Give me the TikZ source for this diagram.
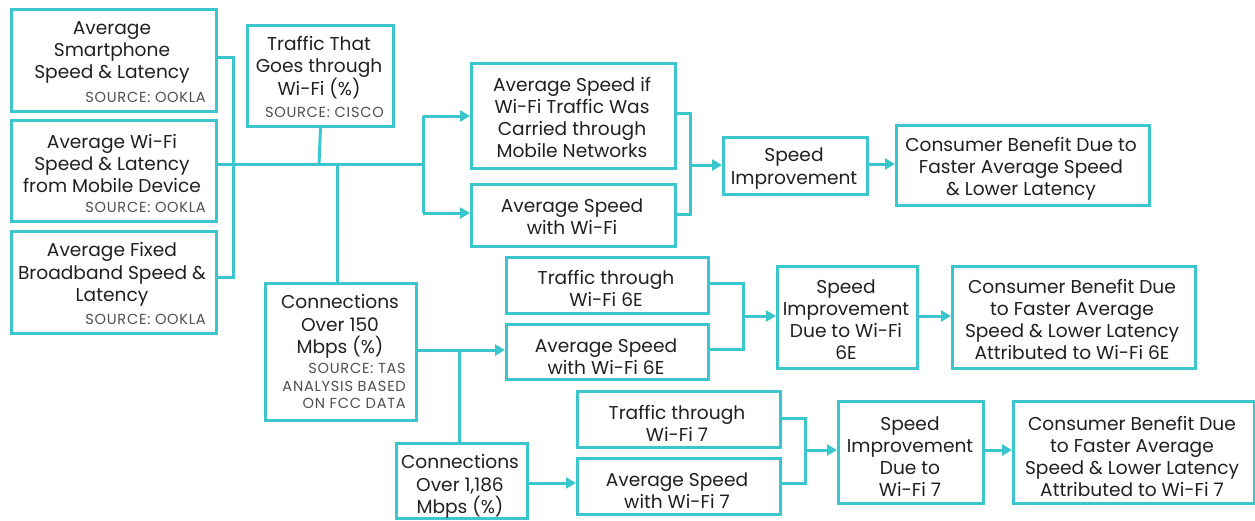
\documentclass[tikz,border=0pt]{standalone}
\usepackage{fontspec}
\setmainfont{Poppins}
\usetikzlibrary{arrows.meta}
\definecolor{tq}{RGB}{58,198,204}
\definecolor{ink}{RGB}{35,31,32}
\definecolor{srcgray}{RGB}{80,80,80}
\tikzset{
  x=1pt, y=-1pt,
  box/.style={draw=tq, line width=3pt, anchor=north west, inner sep=0pt, fill=white},
  txt/.style={align=center, text=ink, inner sep=0pt, yshift=-2.5pt, font=\fontsize{18.6}{22.2}\selectfont},
  src/.style={align=right, text=srcgray, inner sep=0pt, font=\fontsize{14.6}{17.5}\selectfont\addfontfeature{LetterSpace=5}},
  link/.style={draw=tq, line width=3pt},
  flow/.style={link, -{Triangle[length=10pt,width=11pt]}}
}
% box with corners (x1,y1)-(x2,y2)
\newcommand{\mybox}[5]{\node[box, minimum width=#4-#2, minimum height=#5-#3] (#1) at (#2,#3) {};}
\begin{document}
\begin{tikzpicture}
\useasboundingbox[fill=white] (0,0) rectangle (1255,520);

% ---- input boxes
\mybox{a1}{10}{8}{215}{110}
\mybox{a2}{10}{119}{215}{220}
\mybox{a3}{10}{230}{215}{332}
\mybox{tr}{246}{24}{392}{125}
\mybox{c150}{264}{282}{415}{419}
\mybox{c1186}{395}{442}{526}{517}

% ---- top chain
\mybox{asi}{470}{62}{674}{167}
\mybox{asw}{470}{183}{674}{245}
\mybox{si}{722}{136}{866}{193}
\mybox{cb}{895}{124}{1148}{204}

% ---- Wi-Fi 6E chain
\mybox{t6}{505}{256}{707}{312}
\mybox{s6}{505}{323}{707}{378}
\mybox{si6}{776}{265}{916}{367}
\mybox{cb6}{951}{265}{1194}{367}

% ---- Wi-Fi 7 chain
\mybox{t7}{576}{390}{779}{446}
\mybox{s7}{576}{457}{779}{513}
\mybox{si7}{837}{400}{982}{502}
\mybox{cb7}{1012}{400}{1253}{502}

% ---- texts
\node[txt] (a1t) at (112,50) {Average\\Smartphone\\Speed \& Latency};
\node[src, anchor=east] (a1s) at (206,97) {SOURCE: OOKLA};
\node[txt] (a2t) at (112,161) {Average Wi-Fi\\Speed \& Latency\\from Mobile Device};
\node[src, anchor=east] (a2s) at (206,207) {SOURCE: OOKLA};
\node[txt] (a3t) at (112,272) {Average Fixed\\Broadband Speed \&\\Latency};
\node[src, anchor=east] (a3s) at (206,319) {SOURCE: OOKLA};
\node[txt] (trt) at (319,65) {Traffic That\\Goes through\\Wi-Fi (\%)};
\node[src, anchor=east] (trs) at (384,112) {SOURCE: CISCO};
\node[txt] (c150t) at (340,324) {Connections\\Over 150\\Mbps (\%)};
\node[src, anchor=north east] (c150s) at (406,363) {SOURCE: TAS\\ANALYSIS BASED\\ON FCC DATA};
\node[txt] (c1186t) at (460,484) {Connections\\Over 1,186\\Mbps (\%)};

\node[txt] (asit) at (572,115) {Average Speed if\\Wi-Fi Traffic Was\\Carried through\\Mobile Networks};
\node[txt] (aswt) at (572,214) {Average Speed\\with Wi-Fi};
\node[txt] (sit) at (794,166) {Speed\\Improvement};
\node[txt] (cbt) at (1021,166) {Consumer Benefit Due to\\Faster Average Speed\\\& Lower Latency};

\node[txt] (t6t) at (606,286) {Traffic through\\Wi-Fi 6E};
\node[txt] (s6t) at (606,354) {Average Speed\\with Wi-Fi 6E};
\node[txt] (si6t) at (846,317) {Speed\\Improvement\\Due to Wi-Fi\\6E};
\node[txt] (cb6t) at (1072,317) {Consumer Benefit Due\\to Faster Average\\Speed \& Lower Latency\\Attributed to Wi-Fi 6E};

\node[txt] (t7t) at (677,421) {Traffic through\\Wi-Fi 7};
\node[txt] (s7t) at (677,488) {Average Speed\\with Wi-Fi 7};
\node[txt] (si7t) at (910,454) {Speed\\Improvement\\Due to\\Wi-Fi 7};
\node[txt] (cb7t) at (1132,454) {Consumer Benefit Due\\to Faster Average\\Speed \& Lower Latency\\Attributed to Wi-Fi 7};

% ---- junction points
\coordinate (jl) at (233,57);
\coordinate (jm) at (423,164);
\coordinate (jt) at (319,164);
\coordinate (jc) at (337,164);
\coordinate (jr) at (690,165);
\coordinate (j6) at (459,350);
\coordinate (k6) at (743,316);
\coordinate (k7) at (805,450);

% ---- connectors
\draw[link] (a1.east |- jl) -- (jl) -- (jl |- 0,277) -- (a3.east |- 0,277);
\draw[link] (a2.east |- jm) -- (jm);
\draw[link] (tr.south) -- (jt);
\draw[link] (jc) -- (c150.north -| jc);
\draw[link] (jm |- 0,116) -- (jm |- 0,213);
\draw[flow] (jm |- 0,116) -- (asi.west |- 0,116);
\draw[flow] (jm |- 0,213) -- (asw.west |- 0,213);
\draw[link] (asi.east |- 0,113) -- (jr |- 0,113) -- (jr |- 0,214) -- (asw.east |- 0,214);
\draw[flow] (jr) -- (si.west |- jr);
\draw[flow] (si.east |- 0,164) -- (cb.west |- 0,164);

\draw[flow] (c150.east |- j6) -- (s6.west |- j6);
\draw[link] (j6) -- (c1186.north -| j6);
\draw[flow] (c1186.east |- 0,483) -- (s7.west |- 0,483);

\draw[link] (t6.east |- 0,283) -- (k6 |- 0,283) -- (k6 |- 0,349) -- (s6.east |- 0,349);
\draw[flow] (k6) -- (si6.west |- k6);
\draw[flow] (si6.east |- k6) -- (cb6.west |- k6);

\draw[link] (t7.east |- 0,418) -- (k7 |- 0,418) -- (k7 |- 0,483) -- (s7.east |- 0,483);
\draw[flow] (k7) -- (si7.west |- k7);
\draw[flow] (si7.east |- k7) -- (cb7.west |- k7);
\end{tikzpicture}
\end{document}
